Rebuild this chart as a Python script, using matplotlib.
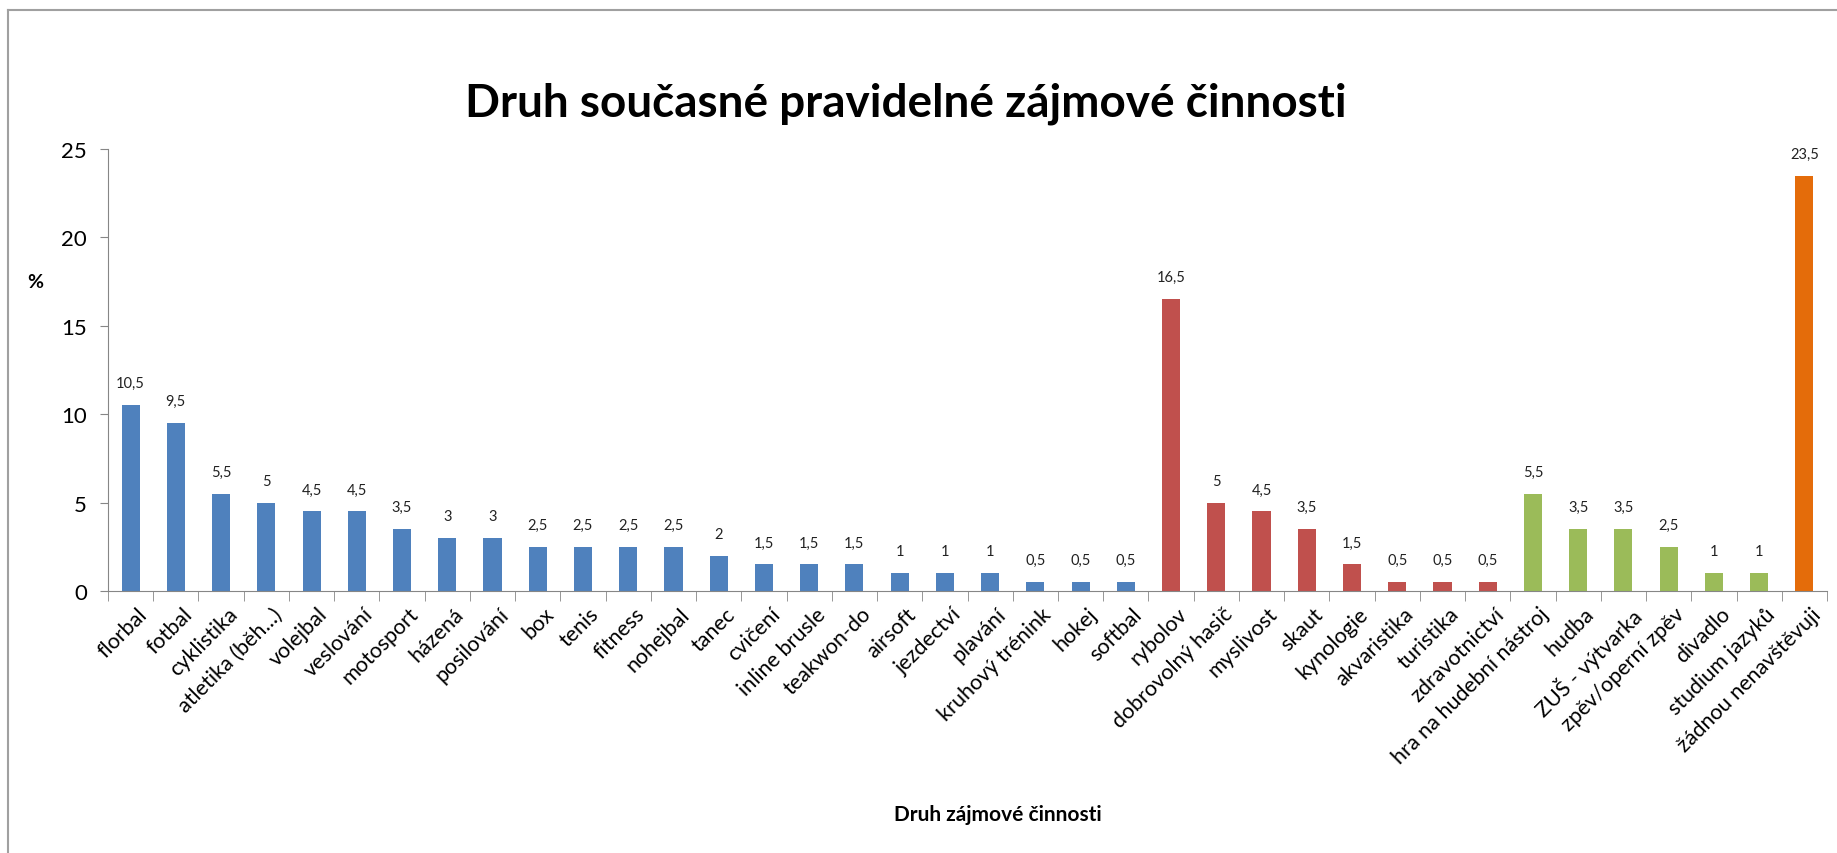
import matplotlib.pyplot as plt
import matplotlib.transforms as mtransforms
from matplotlib.lines import Line2D

plt.rcParams['font.family'] = ['Lato', 'DejaVu Sans']

# kategorie a hodnoty (%)
sport = ['florbal', 'fotbal', 'cyklistika', 'atletika (běh...)', 'volejbal', 'veslování',
         'motosport', 'házená', 'posilování', 'box', 'tenis', 'fitness', 'nohejbal', 'tanec',
         'cvičení', 'inline brusle', 'teakwon-do', 'airsoft', 'jezdectví', 'plavání',
         'kruhový trénink', 'hokej', 'softbal']
sport_vals = [10.5, 9.5, 5.5, 5, 4.5, 4.5, 3.5, 3, 3, 2.5, 2.5, 2.5, 2.5, 2,
              1.5, 1.5, 1.5, 1, 1, 1, 0.5, 0.5, 0.5]

ostatni = ['rybolov', 'dobrovolný hasič', 'myslivost', 'skaut', 'kynologie', 'akvaristika',
           'turistika', 'zdravotnictví']
ostatni_vals = [16.5, 5, 4.5, 3.5, 1.5, 0.5, 0.5, 0.5]

umeni = ['hra na hudební nástroj', 'hudba', 'ZUŠ - výtvarka', 'zpěv/operní zpěv',
         'divadlo', 'studium jazyků']
umeni_vals = [5.5, 3.5, 3.5, 2.5, 1, 1]

zadna = ['žádnou nenavštěvuji']
zadna_vals = [23.5]

groups = [(sport, sport_vals, '#4F81BD'),
          (ostatni, ostatni_vals, '#C0504D'),
          (umeni, umeni_vals, '#9BBB59'),
          (zadna, zadna_vals, '#E46C0A')]

W, H = 1837, 854
fig = plt.figure(figsize=(W / 100, H / 100), dpi=100)
ax = fig.add_axes([108 / W, 1 - 592 / H, (1827 - 108) / W, (592 - 150) / H])

labels = []
pos = 0
for names, vals, col in groups:
    xs = list(range(pos, pos + len(vals)))
    ax.bar(xs, vals, width=0.4, color=col)
    for x, v in zip(xs, vals):
        txt = ('%g' % v).replace('.', ',')
        ax.text(x, v + 0.85, txt, ha='center', va='bottom', fontsize=10.5, color='#222222')
    labels += names
    pos += len(vals)

ax.set_xlim(-0.5, len(labels) - 0.5)
ax.set_ylim(0, 25)
ax.set_yticks([0, 5, 10, 15, 20, 25])
ax.tick_params(axis='y', labelsize=16, length=6, color='#868686', pad=9)
ax.set_xticks(range(len(labels)))
ax.set_xticklabels(labels, rotation=45, ha='right', rotation_mode='anchor', fontsize=15.5)
ax.tick_params(axis='x', length=0, pad=9)
shift = mtransforms.ScaledTranslation(6 / 100, 0, fig.dpi_scale_trans)
for lab in ax.get_xticklabels():
    lab.set_transform(lab.get_transform() + shift)
ax.set_xticks([i - 0.5 for i in range(len(labels) + 1)], minor=True)
ax.tick_params(axis='x', which='minor', length=7, color='#868686')

for s in ['top', 'right']:
    ax.spines[s].set_visible(False)
for s in ['left', 'bottom']:
    ax.spines[s].set_color('#868686')

fig.text(906 / W, 1 - 104 / H, 'Druh současné pravidelné zájmové činnosti',
         ha='center', va='center', fontsize=33, fontweight='bold')
fig.text(35 / W, 1 - 283 / H, '%', ha='center', va='center', fontsize=14, fontweight='bold')
fig.text(998 / W, 1 - 815 / H, 'Druh zájmové činnosti', ha='center', va='center',
         fontsize=15, fontweight='bold')

# rámeček grafu
fig.add_artist(Line2D([8 / W, 8 / W], [0, 1 - 11 / H], color='#A0A0A0', lw=1.5))
fig.add_artist(Line2D([8 / W, 1], [1 - 11 / H, 1 - 11 / H], color='#A0A0A0', lw=1.5))

fig.savefig('out.png', dpi=100, facecolor='white')
